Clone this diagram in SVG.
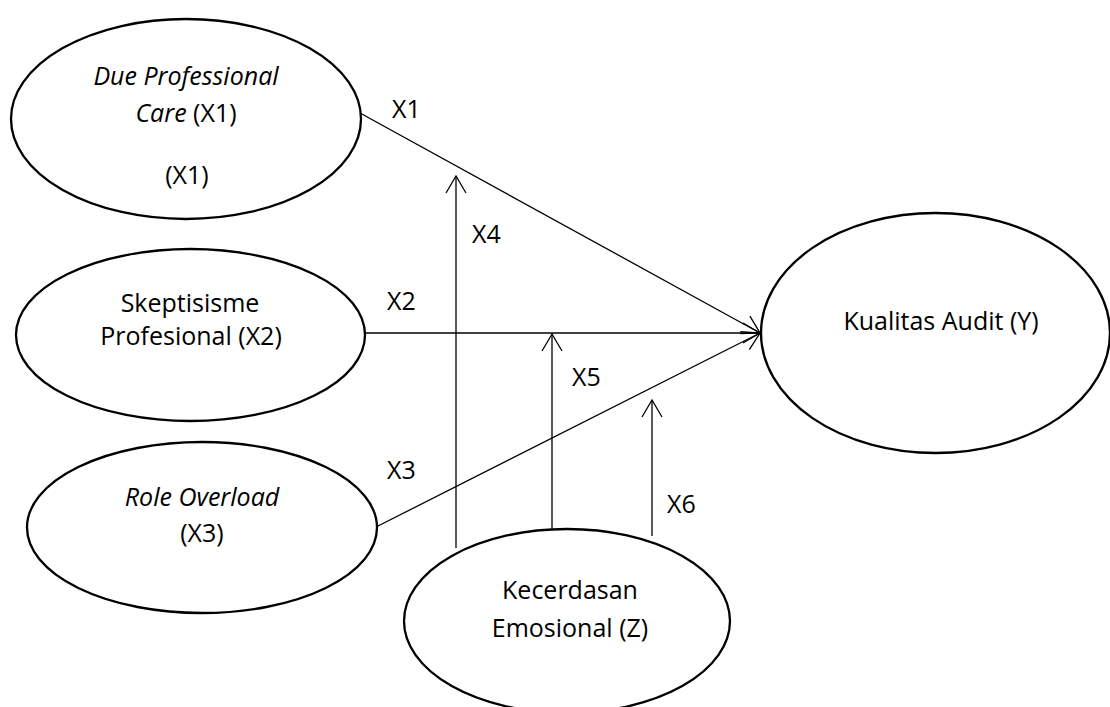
<svg xmlns="http://www.w3.org/2000/svg" width="1110" height="707" viewBox="0 0 1110 707">
<style>
.node ellipse{fill:#fff;stroke:#000;stroke-width:2.3}
text{font-family:"Open Sans","Liberation Sans",sans-serif;font-size:25px;fill:#000}
.t{text-anchor:middle}
.i{font-style:italic}
.c line{stroke:#000;stroke-width:1.3;fill:none}
</style>
<defs>
<marker id="arr" markerUnits="userSpaceOnUse" markerWidth="24" markerHeight="24" viewBox="-20 -12 24 24" refX="0" refY="0" orient="auto">
<path d="M-17,-10 L0,0 L-17,10" fill="none" stroke="#000" stroke-width="1.3"/>
</marker>
</defs>
<rect width="1110" height="707" fill="#fff"/>
<g id="connectors" class="c">
<line x1="360" y1="113" x2="760" y2="333" marker-end="url(#arr)"/>
<line x1="365" y1="333" x2="760" y2="333" marker-end="url(#arr)"/>
<line x1="376" y1="527" x2="760" y2="333" marker-end="url(#arr)"/>
<line x1="456" y1="548" x2="456" y2="176" marker-end="url(#arr)"/>
<line x1="552" y1="529" x2="552" y2="334" marker-end="url(#arr)"/>
<line x1="652" y1="536" x2="652" y2="400" marker-end="url(#arr)"/>
<text x="392" y="118">X1</text>
<text x="387" y="310">X2</text>
<text x="387" y="479">X3</text>
<text x="472" y="243">X4</text>
<text x="572" y="386">X5</text>
<text x="667" y="513">X6</text>
</g>
<g id="n-x1" class="node">
<ellipse cx="186" cy="119" rx="175" ry="100"/>
<text class="t i" x="186" y="85">Due Professional</text>
<text class="t" x="186" y="122"><tspan class="i">Care</tspan> (X1)</text>
<text class="t" x="187" y="184">(X1)</text>
</g>
<g id="n-x2" class="node">
<ellipse cx="190.5" cy="335" rx="174.5" ry="86"/>
<text class="t" x="190" y="312">Skeptisisme</text>
<text class="t" x="191" y="345">Profesional (X2)</text>
</g>
<g id="n-x3" class="node">
<ellipse cx="202" cy="527.5" rx="175" ry="85.5"/>
<text class="t i" x="202" y="506">Role Overload</text>
<text class="t" x="202" y="542">(X3)</text>
</g>
<g id="n-y" class="node">
<ellipse cx="935.5" cy="333" rx="174.5" ry="120"/>
<text class="t" x="941" y="330">Kualitas Audit (Y)</text>
</g>
<g id="n-z" class="node">
<ellipse cx="567" cy="621" rx="163" ry="92"/>
<text class="t" x="570" y="599">Kecerdasan</text>
<text class="t" x="570" y="637">Emosional (Z)</text>
</g>
</svg>
